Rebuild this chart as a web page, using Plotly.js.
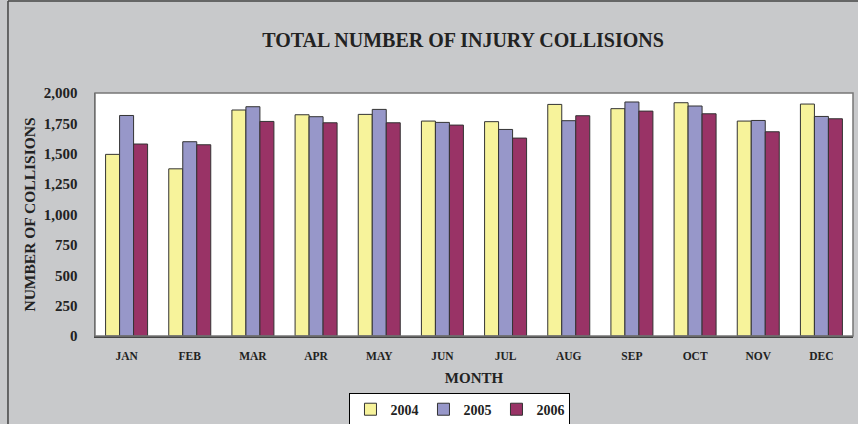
<!DOCTYPE html>
<html>
<head>
<meta charset="utf-8">
<script src="https://cdn.plot.ly/plotly-3.0.1.min.js"></script>
<style>html,body{margin:0;padding:0;background:#c8c9cb;}#chart{width:858px;height:424px;}</style>
</head>
<body>
<div id="chart"></div>
<script>
const months = ["JAN","FEB","MAR","APR","MAY","JUN","JUL","AUG","SEP","OCT","NOV","DEC"];
const v2004 = [1495, 1376, 1860, 1821, 1824, 1769, 1764, 1906, 1871, 1920, 1769, 1909];
const v2005 = [1815, 1599, 1887, 1805, 1865, 1758, 1700, 1772, 1926, 1893, 1774, 1807];
const v2006 = [1580, 1574, 1766, 1755, 1755, 1736, 1629, 1813, 1851, 1829, 1681, 1788];
const seriesNames = ["2004", "2005", "2006"];
const colors = ["#f7f39b", "#9797c9", "#993366"];

const serif = "'Liberation Serif', 'Times New Roman', serif";
const vals = [v2004, v2005, v2006];
const traces = vals.map((v, i) => ({
  type: "bar",
  name: seriesNames[i],
  x: months,
  y: v,
  marker: {color: colors[i], line: {color: "#333333", width: 1}},
  hoverinfo: "x+y+name"
}));

const layout = {
  width: 858, height: 424,
  paper_bgcolor: "#c8c9cb",
  plot_bgcolor: "#ffffff",
  margin: {l: 95, r: 5, t: 93, b: 88, autoexpand: false},
  barmode: "group",
  bargap: 0.335,
  bargroupgap: 0,
  font: {family: serif, color: "#222222"},
  title: {
    text: "<b>TOTAL NUMBER OF INJURY COLLISIONS</b>",
    font: {family: serif, size: 20, color: "#222222"},
    x: 0.4855, xanchor: "center", xref: "paper",
    y: 0.905, yanchor: "middle"
  },
  xaxis: {
    showline: true, linecolor: "#444444", linewidth: 2, mirror: false,
    ticks: "", ticklabelstandoff: 8,
    tickfont: {family: serif, size: 11.5, color: "#222222", weight: "bold"},
    title: {text: "MONTH", font: {family: serif, size: 15, color: "#222222", weight: "bold"}, standoff: 12},
    showgrid: false, zeroline: false
  },
  yaxis: {
    range: [0, 2000], dtick: 250, tick0: 0,
    tickformat: ",d",
    showline: true, linecolor: "#555555", linewidth: 1.5,
    showgrid: false, zeroline: false,
    ticks: "", ticklabelstandoff: 13,
    tickfont: {family: serif, size: 15, color: "#222222", weight: "bold"},
    title: {text: "NUMBER OF COLLISIONS", font: {family: serif, size: 15.5, color: "#222222", weight: "bold"}, standoff: 4}
  },
  showlegend: true,
  legend: {
    orientation: "h",
    x: 0.4815, xanchor: "center", xref: "paper",
    y: -0.233, yanchor: "top",
    bgcolor: "#ffffff", bordercolor: "#000000", borderwidth: 1,
    font: {family: serif, size: 14, color: "#222222", weight: "bold"},
    itemwidth: 30, entrywidth: 28, traceorder: "normal"
  },
  shapes: [
    {type: "rect", xref: "paper", yref: "paper", x0: 0, x1: 1, y0: 0, y1: 1,
     line: {color: "#777777", width: 1.5}, fillcolor: "rgba(0,0,0,0)", layer: "above"},
    {type: "line", xref: "paper", yref: "paper", x0: -0.1148, x1: -0.1148, y0: -0.40, y1: 1.379,
     line: {color: "#444444", width: 1.5}},
    {type: "line", xref: "paper", yref: "paper", x0: -0.1148, x1: 1.01, y0: 1.379, y1: 1.379,
     line: {color: "#444444", width: 1.5}}
  ]
};

Plotly.newPlot("chart", traces, layout, {displayModeBar: false, staticPlot: true});
</script>
</body>
</html>
